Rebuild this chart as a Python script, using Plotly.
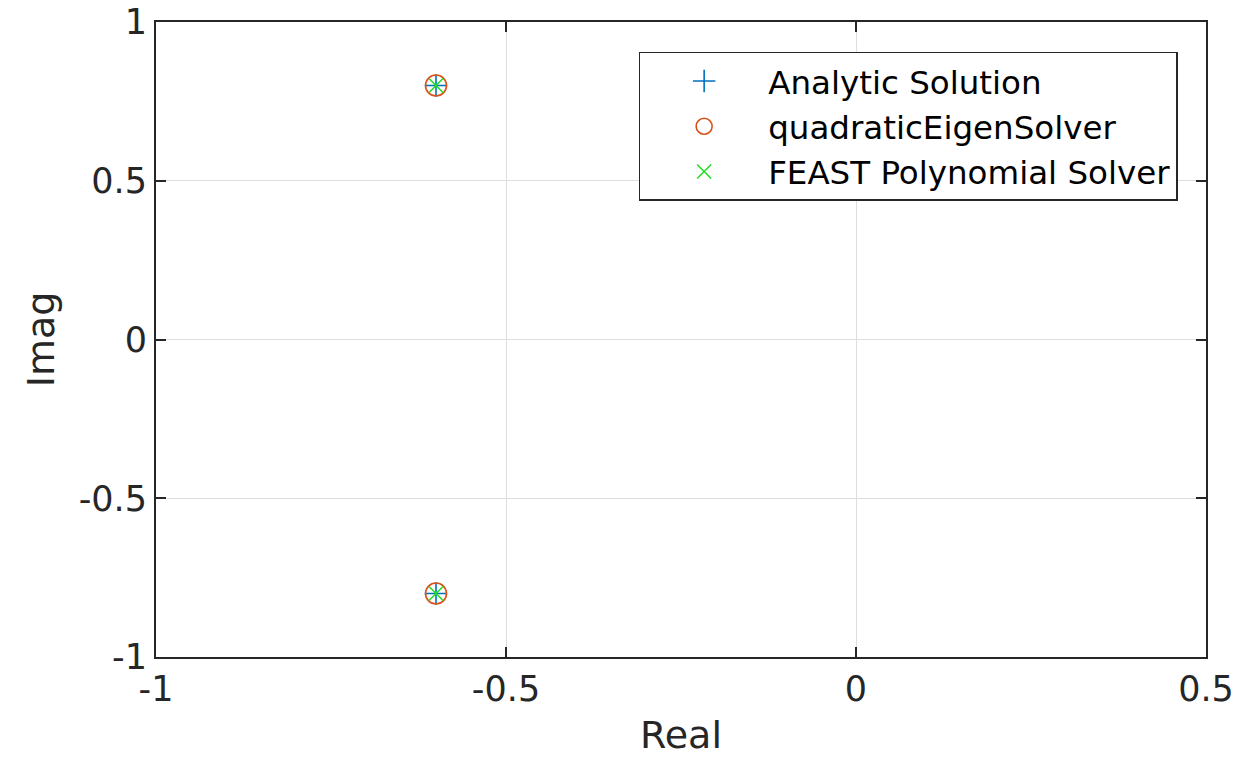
import plotly.graph_objects as go

# Data
analytic_real = [-0.6, -0.6]
analytic_imag = [0.8, -0.8]
quad_real = [-0.6, -0.6]
quad_imag = [0.8, -0.8]
feast_real = [-0.6, -0.6]
feast_imag = [0.8, -0.8]
series_names = ["Analytic Solution", "quadraticEigenSolver", "FEAST Polynomial Solver"]
x_ticks = [-1, -0.5, 0, 0.5]
x_tick_labels = ["-1", "-0.5", "0", "0.5"]
y_ticks = [-1, -0.5, 0, 0.5, 1]
y_tick_labels = ["-1", "-0.5", "0", "0.5", "1"]

fig = go.Figure()
fig.add_trace(go.Scatter(x=analytic_real, y=analytic_imag, mode="markers", name=series_names[0],
                         marker=dict(symbol="cross-thin", size=16, line=dict(color="#0072BD", width=1.6))))
fig.add_trace(go.Scatter(x=quad_real, y=quad_imag, mode="markers", name=series_names[1],
                         marker=dict(symbol="circle-open", size=21, color="#D95319", line=dict(color="#D95319", width=1.6))))
fig.add_trace(go.Scatter(x=feast_real, y=feast_imag, mode="markers", name=series_names[2],
                         marker=dict(symbol="x-thin", size=14, line=dict(color="#22E022", width=1.6))))

axis_common = dict(showgrid=True, gridcolor="#DEDEDE", gridwidth=1, zeroline=False,
                   showline=True, linecolor="#262626", linewidth=2, mirror="ticks",
                   ticks="inside", ticklen=10, tickwidth=2, tickcolor="#262626",
                   automargin=False,
                   tickfont=dict(family="DejaVu Sans", size=35, color="#262626"))

fig.update_xaxes(range=[-1, 0.5], tickvals=x_ticks, ticktext=x_tick_labels,
                 title=dict(text="Real", font=dict(family="DejaVu Sans", size=38, color="#262626"), standoff=18),
                 **axis_common)
fig.update_yaxes(range=[-1, 1], tickvals=y_ticks, ticktext=y_tick_labels,
                 title=dict(text="Imag", font=dict(family="DejaVu Sans", size=38, color="#262626"), standoff=12),
                 **axis_common)

fig.update_layout(
    width=1257, height=757,
    margin=dict(l=156, r=51, t=22, b=100),
    plot_bgcolor="white", paper_bgcolor="white",
    font=dict(family="DejaVu Sans", color="#262626"),
    legend=dict(x=0.973, y=0.953, xanchor="right", yanchor="top",
                bgcolor="white", bordercolor="#262626", borderwidth=1.5,
                font=dict(family="DejaVu Sans", size=32.5, color="#000000"),
                itemsizing="trace", itemwidth=118, tracegroupgap=0),
)

fig.write_html("out.html")
